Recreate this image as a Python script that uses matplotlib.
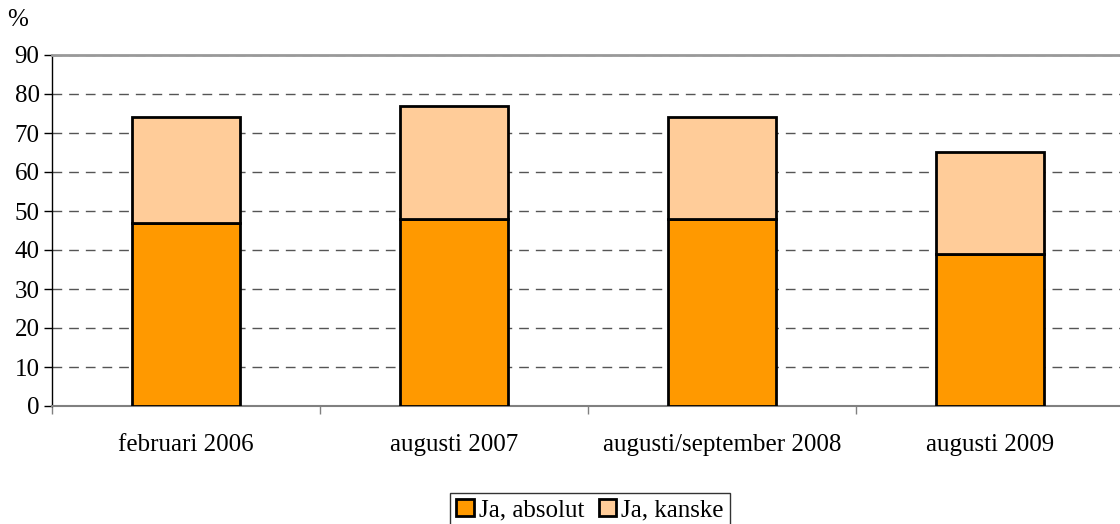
"""
Stacked bar chart: Ja, absolut / Ja, kanske
"""

import matplotlib.pyplot as plt
import numpy as np

# Data
periods = ['februari 2006', 'augusti 2007', 'augusti/september 2008', 'augusti 2009']
ja_absolut = [47, 48, 48, 39]
ja_kanske = [27, 29, 26, 26]

plt.rcParams['font.family'] = ['Liberation Serif', 'DejaVu Serif']

fig = plt.figure(figsize=(11.2, 5.24), dpi=100)
ax = fig.add_axes([52 / 1120, 1 - 406 / 524, 1072 / 1120, 351 / 524])

x = np.arange(len(periods))
width = 0.4
ax.bar(x, ja_absolut, width, color='#FF9900', edgecolor='black', linewidth=2,
       label='Ja, absolut', zorder=3)
ax.bar(x, ja_kanske, width, bottom=ja_absolut, color='#FFCC99', edgecolor='black',
       linewidth=2, label='Ja, kanske', zorder=3)

# Axes limits and ticks
ax.set_xlim(-0.5, len(periods) - 0.5)
ax.set_ylim(0, 90)
ax.set_yticks(np.arange(0, 91, 10))
ax.set_xticks(x)
ax.set_xticklabels(periods)
ax.set_xticks(np.arange(-0.5, len(periods), 1), minor=True)
ax.tick_params(axis='x', which='major', length=0, pad=20, labelsize=18)
ax.tick_params(axis='x', which='minor', length=6, color='#808080', width=1)
ax.tick_params(axis='y', length=6, width=1, labelsize=18, pad=3, color='black')

# Dashed grid
ax.yaxis.grid(True, color='#555555', linestyle=(0, (7, 5)), linewidth=1, zorder=0)
ax.set_axisbelow(True)

# Spines
ax.spines['top'].set_color('#999999')
ax.spines['top'].set_linewidth(2)
ax.spines['right'].set_visible(False)
ax.spines['bottom'].set_color('#808080')
ax.spines['bottom'].set_linewidth(1.5)
ax.spines['left'].set_color('black')
ax.spines['left'].set_linewidth(1)

# Unit label
fig.text(18 / 1120, 1 - 20 / 524, '%', fontsize=18, ha='center', va='center')

# Legend
leg = fig.legend(loc='center', bbox_to_anchor=(590 / 1120, 1 - 510 / 524), ncol=2,
                 fontsize=18, frameon=True, fancybox=False, edgecolor='black',
                 handlelength=0.7, handleheight=0.7, handletextpad=0.2,
                 columnspacing=0.6, borderpad=0.25)
leg.get_frame().set_linewidth(1)

fig.savefig('out.png', dpi=100)
